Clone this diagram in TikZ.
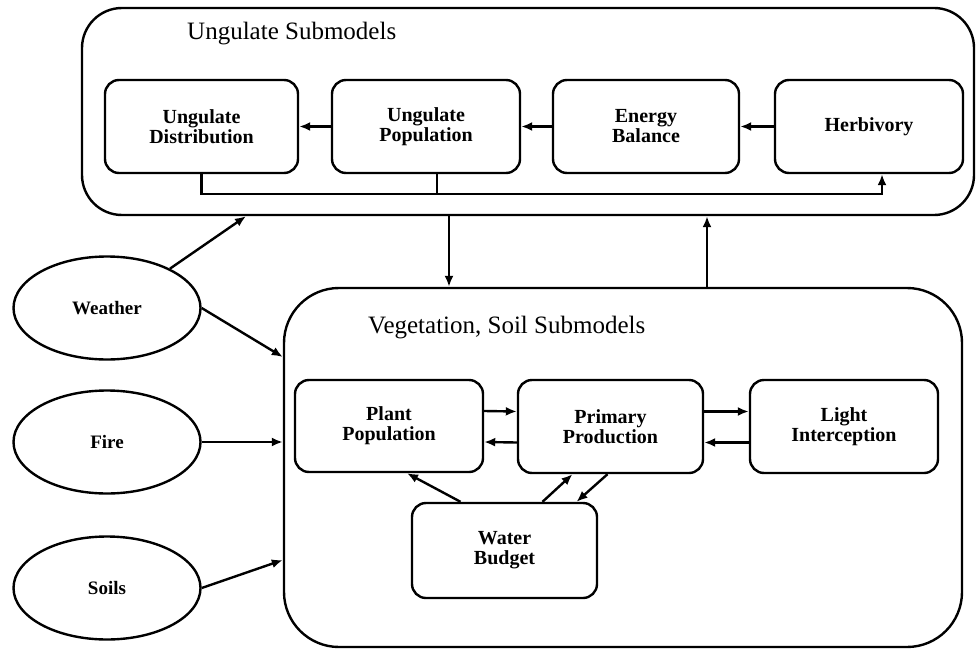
\documentclass[tikz,border=0pt]{standalone}
\usepackage{fontspec}
\setmainfont{Liberation Serif}
\usetikzlibrary{arrows.meta,shapes.geometric}

\begin{document}
\begin{tikzpicture}[x=1pt,y=-1pt,
    every node/.style={inner sep=0pt},
    panel/.style={draw,line width=2.4pt,rounded corners=#1},
    submodel/.style={draw,line width=2.4pt,rounded corners=14pt,align=center,
      font=\fontsize{20}{20}\selectfont\bfseries},
    driver/.style={draw,ellipse,line width=2.4pt,minimum width=187pt,minimum height=103pt,
      font=\fontsize{19}{20}\selectfont\bfseries},
    paneltitle/.style={anchor=base west,font=\fontsize{25}{25}\selectfont},
    link/.style={line width=2.4pt,-{Latex[length=11pt,width=9pt]}},
    wire/.style={line width=2.4pt}]
  \useasboundingbox (0,0) rectangle (976,650);

  \node[panel=40pt,minimum width=892pt,minimum height=207pt] (ungulates) at (528,111.5) {};
  \node[paneltitle] (ungtitle) at (187,40) {Ungulate Submodels};
  \node[submodel,minimum width=193pt,minimum height=93pt] (distr)  at (201.5,126.5) {Ungulate\\Distribution};
  \node[submodel,minimum width=188pt,minimum height=93pt] (pop)    at (426,126.5)   {Ungulate\\Population};
  \node[submodel,minimum width=186pt,minimum height=93pt] (energy) at (646,126.5)   {Energy\\Balance};
  \node[submodel,minimum width=188pt,minimum height=93pt] (herb)   at (869,126.5)   {Herbivory};

  \node[panel=55pt,minimum width=678pt,minimum height=359pt] (veg) at (623,467.5) {};
  \node[paneltitle] (vegtitle) at (368,333) {Vegetation, Soil Submodels};
  \node[submodel,minimum width=188pt,minimum height=92pt] (plant) at (389,426)     {Plant\\Population};
  \node[submodel,minimum width=185pt,minimum height=93pt] (prim)  at (610.5,426.5) {Primary\\Production};
  \node[submodel,minimum width=188pt,minimum height=93pt] (light) at (844,426.5)   {Light\\Interception};
  \node[submodel,minimum width=185pt,minimum height=95pt] (water) at (504.5,550.5) {Water\\Budget};

  \node[driver] (weather) at (107,308) {Weather};
  \node[driver] (fire)    at (107,442) {Fire};
  \node[driver] (soils)   at (107,588) {Soils};

  \coordinate (loop) at (882,194);
  \coordinate (popdrop) at ([xshift=11pt]pop.south);
  \coordinate (down) at (449,0);
  \coordinate (up) at (707,0);
  \coordinate (wtop) at (246,0);
  \coordinate (wveg) at (0,357);
  \coordinate (sveg) at (0,560);

  \draw[link] (pop) -- (distr);
  \draw[link] (energy) -- (pop);
  \draw[link] (herb) -- (energy);
  \draw[link] (distr.south) |- (loop) -- (herb.south -| loop);
  \draw[wire] (popdrop) -- (popdrop |- loop);

  \draw[link] (ungulates.south -| down) -- (veg.north -| down);
  \draw[link] (veg.north -| up) -- (ungulates.south -| up);

  \draw[link] (weather.32) -- (ungulates.south -| wtop);
  \draw[link] (weather.east) -- (veg.west |- wveg);
  \draw[link] (fire) -- (veg.west |- fire);
  \draw[link] (soils.east) -- (veg.west |- sveg);

  \draw[link] ([yshift=15pt]plant.east) -- ([yshift=15pt]prim.west);
  \draw[link] ([yshift=-16pt]prim.west) -- ([yshift=-16pt]plant.east);
  \draw[link] ([yshift=15pt]prim.east) -- ([yshift=15pt]light.west);
  \draw[link] ([yshift=-16pt]light.west) -- ([yshift=-16pt]prim.east);
  \draw[link] ([xshift=-44pt]water.north) -- ([xshift=18pt]plant.south);
  \draw[link] ([xshift=38pt]water.north) -- ([xshift=-38pt]prim.south);
  \draw[link] ([xshift=-3pt]prim.south) -- ([xshift=72pt]water.north);
\end{tikzpicture}
\end{document}
